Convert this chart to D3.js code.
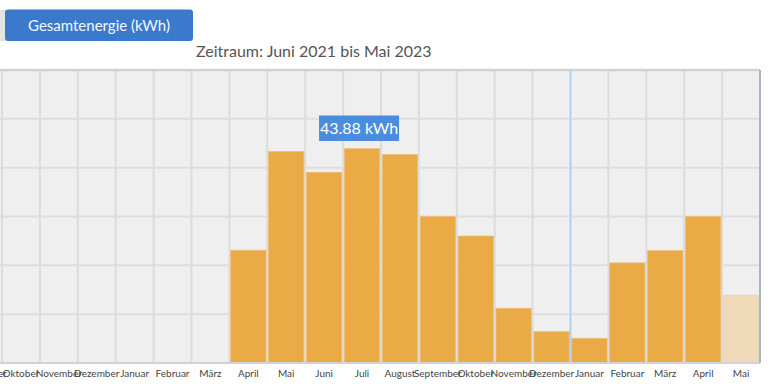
<!DOCTYPE html>
<html>
<head>
<meta charset="utf-8">
<title>Gesamtenergie</title>
<script src="https://cdnjs.cloudflare.com/ajax/libs/d3/7.8.5/d3.min.js"></script>
<style>
  body { margin: 0; background: #fff; overflow: hidden; }
  text { font-family: Lato, "Noto Sans", sans-serif; }
</style>
</head>
<body>
<div id="chart"></div>
<script>
// months Juni 2021 .. Mai 2023
var months = ["Juni","Juli","August","September","Oktober","November","Dezember",
  "Januar","Februar","März","April","Mai","Juni","Juli","August","September",
  "Oktober","November","Dezember","Januar","Februar","März","April","Mai"];
var years = [2021,2021,2021,2021,2021,2021,2021,2022,2022,2022,2022,2022,
  2022,2022,2022,2022,2022,2022,2022,2023,2023,2023,2023,2023];
var energy = [0,0,0,0,0,0,0,0,0,0,23.1,43.3,39.05,43.88,42.7,30.0,26.0,11.2,6.4,5.05,20.5,23.0,30.0,13.9];
var yTicks = [0,10,20,30,40,50,60];
var title = "Gesamtenergie (kWh)";
var subtitle = "Zeitraum: Juni 2021 bis Mai 2023";
var tooltipIndex = 13;

var W = 768, H = 391;
var plotTop = 70, plotBottom = 363, plotRight = 760, bw = 37.9;
var keys = months.map(function(m, i){ return m + " " + years[i]; });
var rows = energy.map(function(v, i){ return { key: keys[i], value: v, last: i === energy.length - 1 }; });

var svg = d3.select("#chart").append("svg").attr("width", W).attr("height", H);

var x = d3.scaleBand().domain(keys).range([plotRight - bw * keys.length, plotRight]).padding(0);
var y = d3.scaleLinear().domain([0, 60]).range([plotBottom, plotTop]);

// header button
svg.append("rect").attr("x", 0).attr("y", 10).attr("width", 6).attr("height", 31).attr("fill", "#e4e4e4");
svg.append("rect").attr("x", 5).attr("y", 9.5).attr("width", 188).attr("height", 31.5)
  .attr("rx", 3).attr("fill", "#3b79cc");
svg.append("text").attr("x", 99).attr("y", 31).attr("text-anchor", "middle")
  .attr("fill", "#f4f7fb").style("font-size", "15px").text(title);

svg.append("text").attr("x", 196).attr("y", 57).attr("fill", "#555")
  .style("font-size", "16px").text(subtitle);

// plot background
svg.append("rect").attr("x", 0).attr("y", plotTop).attr("width", plotRight).attr("height", plotBottom - plotTop)
  .attr("fill", "#efefef");

// horizontal grid
svg.append("g").selectAll("line").data(yTicks).enter().append("line")
  .attr("x1", 0).attr("x2", plotRight)
  .attr("y1", function(d){ return y(d); }).attr("y2", function(d){ return y(d); })
  .attr("stroke", "#dedede").attr("stroke-width", 2);

// vertical grid
svg.append("g").selectAll("line").data(keys).enter().append("line")
  .attr("x1", function(d){ return x(d); }).attr("x2", function(d){ return x(d); })
  .attr("y1", plotTop).attr("y2", plotBottom)
  .attr("stroke", "#dcdcdc").attr("stroke-width", 2);

// year boundary
svg.append("line").attr("x1", x(keys[19])).attr("x2", x(keys[19]))
  .attr("y1", plotTop).attr("y2", plotBottom).attr("stroke", "#b0cdf0").attr("stroke-width", 1.5);

// bars
svg.append("g").selectAll("rect").data(rows.filter(function(d){ return d.value > 0; }))
  .enter().append("rect")
  .attr("x", function(d){ return x(d.key) + 1.3; })
  .attr("width", x.bandwidth() - 2.6)
  .attr("y", function(d){ return y(d.value); })
  .attr("height", function(d){ return y(0) - y(d.value); })
  .attr("fill", function(d){ return d.last ? "#efd9b8" : "#eaaa46"; })
  .attr("stroke", function(d){ return d.last ? "#e8d4b4" : "#efbd75"; })
  .attr("stroke-width", 0.8);

// borders
svg.append("line").attr("x1", 0).attr("x2", plotRight).attr("y1", plotTop).attr("y2", plotTop)
  .attr("stroke", "#d2d2d2").attr("stroke-width", 2.5);
svg.append("line").attr("x1", 0).attr("x2", plotRight).attr("y1", plotBottom).attr("y2", plotBottom)
  .attr("stroke", "#d2d2d2").attr("stroke-width", 2);
svg.append("line").attr("x1", plotRight).attr("x2", plotRight).attr("y1", plotTop).attr("y2", plotBottom)
  .attr("stroke", "#a9b6c2").attr("stroke-width", 2);

// x labels
svg.append("g").selectAll("text").data(months).enter().append("text")
  .attr("x", function(d, i){ return x(keys[i]) + x.bandwidth() / 2; })
  .attr("y", 377).attr("text-anchor", "middle").attr("fill", "#444")
  .style("font-size", "10px").text(function(d){ return d; });

// tooltip
var tx = x(keys[tooltipIndex]) + x.bandwidth() / 2 - 3;
svg.append("rect").attr("x", tx - 40).attr("y", 115.5).attr("width", 80).attr("height", 25.5)
  .attr("fill", "#4a8ddf");
svg.append("text").attr("x", tx).attr("y", 134).attr("text-anchor", "middle")
  .attr("fill", "#fff").style("font-size", "16px")
  .text(d3.format(".2f")(energy[tooltipIndex]) + " kWh");
</script>
</body>
</html>
